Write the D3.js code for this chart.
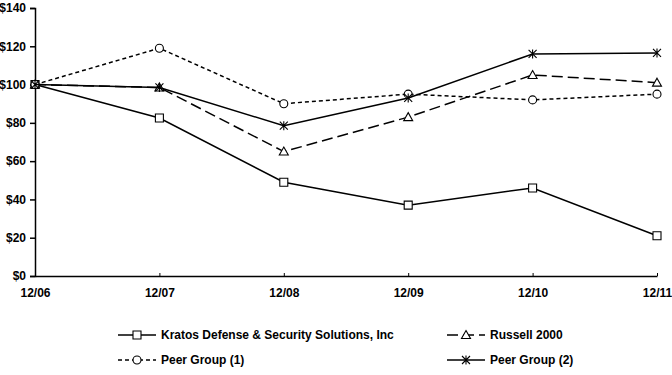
<!DOCTYPE html>
<html>
<head>
<meta charset="utf-8">
<script src="https://cdn.jsdelivr.net/npm/d3@7"></script>
<style>
  body { margin: 0; background: #fff; }
  text { font-family: "Liberation Sans", Arial, sans-serif; font-weight: bold; fill: #000; }
</style>
</head>
<body>
<svg id="chart"></svg>
<script>
var periods = ["12/06", "12/07", "12/08", "12/09", "12/10", "12/11"];
var kratos = [100, 82.5, 49, 37, 46, 21];
var russell = [100, 98.5, 65, 83, 105, 101];
var peer1 = [100, 119, 90, 95, 92, 95];
var peer2 = [100, 98.5, 78.5, 93, 116, 116.5];
var yTicks = [0, 20, 40, 60, 80, 100, 120, 140];

var series = [
  { name: "Kratos Defense & Security Solutions, Inc", values: kratos, dash: null, marker: "square" },
  { name: "Russell 2000", values: russell, dash: "11,5", marker: "triangle" },
  { name: "Peer Group (1)", values: peer1, dash: "4,3", marker: "circle" },
  { name: "Peer Group (2)", values: peer2, dash: null, marker: "star" }
];

var W = 672, H = 375;
var margin = { top: 8, right: 15, bottom: 99, left: 35 },
  width = W - margin.left - margin.right,
  height = H - margin.top - margin.bottom;

var svg = d3.select("#chart").attr("width", W).attr("height", H);
var g = svg.append("g").attr("transform", "translate(" + margin.left + "," + margin.top + ")");

var x = d3.scalePoint().domain(periods).range([0, width]);
var y = d3.scaleLinear().domain([0, 140]).range([height, 0]);

// y axis
var yAxis = g.append("g")
  .call(d3.axisLeft(y).tickValues(yTicks).tickSize(5).tickFormat(function (d) { return "$" + d; }));
yAxis.selectAll("path, line").attr("stroke", "#000").attr("stroke-width", 1.5);
yAxis.selectAll("text").attr("font-size", 12).attr("font-family", null).attr("dx", "-1");

// x axis
var xAxis = g.append("g")
  .attr("transform", "translate(0," + height + ")")
  .call(d3.axisBottom(x).tickSize(-3).tickSizeOuter(0));
xAxis.select("path").attr("stroke", "#000").attr("stroke-width", 1.5);
xAxis.selectAll("line").attr("stroke", "#000").attr("stroke-width", 1);
xAxis.selectAll("text").attr("font-size", 12).attr("font-family", null).attr("y", 12);

function markerPath(type) {
  if (type === "square") return "M-4,-4H4V4H-4Z";
  if (type === "triangle") return "M0,-4.5L4.5,3.5H-4.5Z";
  if (type === "circle") return "M4,0A4,4 0 1,1 -4,0A4,4 0 1,1 4,0Z";
  // asterisk: X plus vertical bar
  return "M-4,-4L4,4M-4,4L4,-4M0,-4.5V4.5";
}

var line = d3.line()
  .x(function (d, i) { return x(periods[i]); })
  .y(function (d) { return y(d); });

series.forEach(function (s) {
  g.append("path")
    .attr("d", line(s.values))
    .attr("fill", "none")
    .attr("stroke", "#000")
    .attr("stroke-width", 1.5)
    .attr("stroke-dasharray", s.dash);
  g.selectAll(null)
    .data(s.values)
    .enter()
    .append("path")
    .attr("transform", function (d, i) { return "translate(" + x(periods[i]) + "," + y(d) + ")"; })
    .attr("d", markerPath(s.marker))
    .attr("fill", s.marker === "star" ? "none" : "#fff")
    .attr("stroke", "#000")
    .attr("stroke-width", 1.1);
});

// legend
var legendPos = [[118, 335], [447, 335], [118, 360], [447, 360]];
series.forEach(function (s, i) {
  var lg = svg.append("g").attr("transform", "translate(" + legendPos[i][0] + "," + legendPos[i][1] + ")");
  lg.append("line")
    .attr("x1", 0).attr("x2", 38)
    .attr("stroke", "#000").attr("stroke-width", 1.5)
    .attr("stroke-dasharray", s.dash);
  lg.append("path")
    .attr("transform", "translate(19,0)")
    .attr("d", markerPath(s.marker))
    .attr("fill", s.marker === "star" ? "none" : "#fff")
    .attr("stroke", "#000").attr("stroke-width", 1.1);
  lg.append("text")
    .attr("x", 43).attr("dy", "0.35em")
    .attr("font-size", 12)
    .text(s.name);
});
</script>
</body>
</html>
